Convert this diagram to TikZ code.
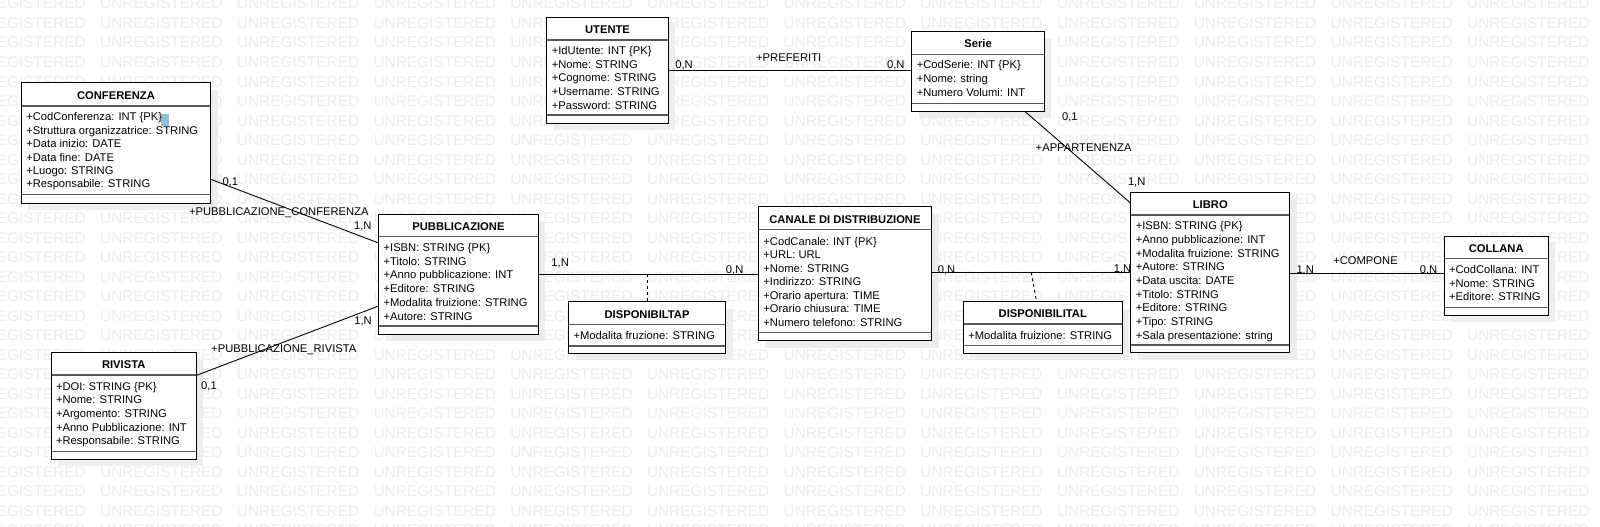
\documentclass[tikz,border=0pt]{standalone}
\usepackage{fontspec}
\setmainfont{Liberation Sans}
\usetikzlibrary{fit,calc}
\definecolor{selblue}{RGB}{150,190,222}
\tikzset{
 wm/.style={font=\fontsize{15.4}{15.4}\selectfont, text=black!7, inner sep=0pt, anchor=west, text height=11pt, text depth=0pt},
 classbox/.style={draw=black, line width=1pt, fill=white, inner sep=0pt},
 shadowbox/.style={fill=black!7},
 sepline/.style={draw=black!65, line width=1.4pt},
 ttl/.style={font=\fontsize{11.2}{13}\selectfont\bfseries, inner sep=0pt, text height=8pt, text depth=0pt},
 attr/.style={font=\fontsize{11.2}{13}\selectfont, inner sep=0pt, anchor=west, text height=8pt, text depth=0pt},
 lbl/.style={font=\fontsize{11.2}{13}\selectfont, inner sep=0pt, text height=8pt, text depth=0pt},
 conn/.style={draw=black, line width=0.9pt},
 dconn/.style={conn, dash pattern=on 3pt off 3pt},
}
% name, L, T, R, B, sep1, sep2, title
\newcommand\umlclass[8]{%
  \fill[shadowbox] (#2+7,#3+7) rectangle (#4+7,#5+7);
  \node[classbox, fit={(#2,#3) (#4,#5)}] (#1) {};
  \draw[sepline] (#2+0.5,#6) -- (#4-0.5,#6);
  \draw[sepline] (#2+0.5,#7) -- (#4-0.5,#7);
  \node[ttl] (#1-t) at ({(#2+#4)/2},{(#3+#6)/2+1}) {#8};
}
% name, L, y0, spacing, list
\newcommand\umlattrs[5]{%
  \foreach \t [count=\i from 0] in {#5} {\node[attr] (#1-a\i) at ({#2+4.8},{#3+\i*#4}) {\t};}
}
\begin{document}
\begin{tikzpicture}[x=1pt,y=-1pt]
\useasboundingbox (0,0) rectangle (1600,527);
\fill[white] (0,0) rectangle (1600,527);
% watermark
\foreach \r in {0,...,27} {
  \foreach \c in {0,...,11} {
    \node[wm] (wm-\r-\c) at ({100+(\c-1)*136.7},{3.5+\r*19.5}) {UNREGISTERED};
  }
}
% classes
\umlclass{conf}{21.3}{82.7}{210.7}{203.3}{106}{194.3}{CONFERENZA}
\fill[selblue] (161,114) rectangle (169.4,126);
\umlattrs{conf}{21.3}{116.7}{13.45}{+CodConferenza: INT \{PK\},+Struttura organizzatrice: STRING,+Data inizio: DATE,+Data fine: DATE,+Luogo: STRING,+Responsabile: STRING}

\umlclass{ut}{546.8}{17.3}{668.2}{123.3}{40}{115}{UTENTE}
\umlattrs{ut}{546.8}{50.7}{13.6}{+IdUtente: INT \{PK\},+Nome: STRING,+Cognome: STRING,+Username: STRING,+Password: STRING}

\umlclass{se}{911.8}{31.7}{1044.3}{111}{54.3}{103.3}{Serie}
\umlattrs{se}{911.8}{65}{13.65}{+CodSerie: INT \{PK\},+Nome: string,+Numero Volumi: INT}

\umlclass{pub}{378.6}{214}{538.3}{334}{236.7}{326}{PUBBLICAZIONE}
\umlattrs{pub}{378.6}{247.3}{13.74}{+ISBN: STRING \{PK\},+Titolo: STRING,+Anno pubblicazione: INT,+Editore: STRING,+Modalita fruizione: STRING,+Autore: STRING}

\umlclass{riv}{51}{352.7}{196.4}{459.3}{375}{451.3}{RIVISTA}
\umlattrs{riv}{51}{386}{13.7}{+DOI: STRING \{PK\},+Nome: STRING,+Argomento: STRING,+Anno Pubblicazione: INT,+Responsabile: STRING}

\umlclass{can}{758.4}{206.7}{931.5}{340.7}{229.3}{332.7}{CANALE DI DISTRIBUZIONE}
\umlattrs{can}{758.4}{241}{13.5}{+CodCanale: INT \{PK\},+URL: URL,+Nome: STRING,+Indirizzo: STRING,+Orario apertura: TIME,+Orario chiusura: TIME,+Numero telefono: STRING}

\umlclass{dp}{568.6}{301.7}{725.5}{353.3}{324.3}{346}{DISPONIBILTAP}
\umlattrs{dp}{568.6}{335}{13.7}{+Modalita fruzione: STRING}

\umlclass{dl}{963.3}{301.7}{1122.3}{353.3}{324}{345.3}{DISPONIBILITAL}
\umlattrs{dl}{963.3}{335}{13.7}{+Modalita fruizione: STRING}

\umlclass{lib}{1130.8}{192.3}{1289.8}{352.5}{215}{345}{LIBRO}
\umlattrs{lib}{1130.8}{225.7}{13.7}{+ISBN: STRING \{PK\},+Anno pubblicazione: INT,+Modalita fruizione: STRING,+Autore: STRING,+Data uscita: DATE,+Titolo: STRING,+Editore: STRING,+Tipo: STRING,+Sala presentazione: string}

\umlclass{col}{1444}{236}{1548.4}{315}{258.3}{307.3}{COLLANA}
\umlattrs{col}{1444}{269.3}{13.7}{+CodCollana: INT,+Nome: STRING,+Editore: STRING}

% connectors
\draw[conn] (ut.east) -- (ut.east -| se.west);
\draw[conn] ([yshift=24.3pt]conf.south east) -- ([yshift=-29.3pt]pub.north west);
\draw[conn] ([yshift=-23pt]riv.north east) -- ([yshift=28.3pt]pub.south west);
\draw[conn] (pub.east) -- (pub.east -| can.west);
\coordinate (dpj) at (dp.north |- pub.east);
\draw[dconn] (dpj) -- (dp.north);
\draw[conn] (lib.west -| can.east) -- (lib.west);
\coordinate (dlj) at ($(dl.north |- lib.west)+(-11.6,0)$);
\coordinate (dlt) at ($(dl.north)+(-6.3,0)$);
\draw[dconn] (dlj) -- (dlt);
\coordinate (colj) at ([yshift=2.2pt]col.west);
\draw[conn] (colj -| lib.east) -- (colj);
\draw[conn] ([xshift=-19.8pt]se.south east) -- ([yshift=-11pt]lib.north west);

% labels
\node[lbl] (l-pref) at (788.7,57.3) {+PREFERITI};
\node[lbl] (l-pref1) at (684,65) {0,N};
\node[lbl] (l-pref2) at (895.8,65) {0,N};
\node[lbl] (l-pc) at (278.8,211) {+PUBBLICAZIONE\_CONFERENZA};
\node[lbl] (l-pc1) at (230.3,181.7) {0,1};
\node[lbl] (l-pc2) at (362.8,225.7) {1,N};
\node[lbl] (l-pr) at (283.8,348.3) {+PUBBLICAZIONE\_RIVISTA};
\node[lbl] (l-pr1) at (363,320) {1,N};
\node[lbl] (l-pr2) at (209,385) {0,1};
\node[lbl] (l-pcan1) at (560.2,262.7) {1,N};
\node[lbl] (l-pcan2) at (734.7,269) {0,N};
\node[lbl] (l-cl1) at (946.5,269.3) {0,N};
\node[lbl] (l-cl2) at (1122.5,268.3) {1,N};
\node[lbl] (l-comp) at (1365.5,260) {+COMPONE};
\node[lbl] (l-comp1) at (1305.2,269.3) {1,N};
\node[lbl] (l-comp2) at (1428.6,269.3) {0,N};
\node[lbl] (l-app) at (1083.6,147.3) {+APPARTENENZA};
\node[lbl] (l-app1) at (1069.9,116) {0,1};
\node[lbl] (l-app2) at (1136.7,181) {1,N};
\end{tikzpicture}
\end{document}
